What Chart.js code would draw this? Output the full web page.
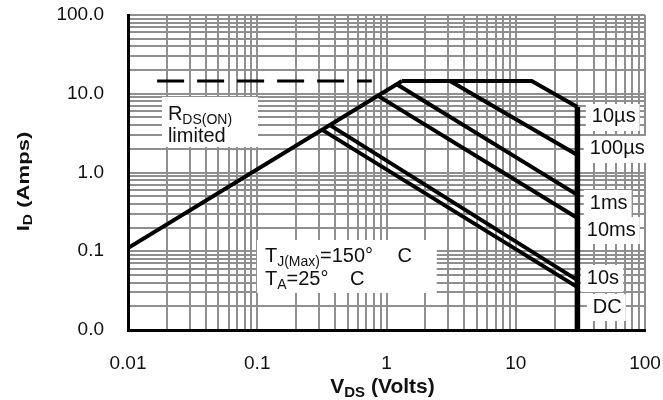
<!DOCTYPE html>
<html>
<head>
<meta charset="utf-8">
<script src="https://cdn.jsdelivr.net/npm/chart.js@4"></script>
<style>
  body { margin: 0; background: #fff; }
</style>
</head>
<body>
<canvas id="soaChart" width="663" height="400"></canvas>
<script>
// axis decades and their tick labels
const vdsDecades = [0.01, 0.1, 1, 10, 100];
const idDecades = [0.01, 0.1, 1, 10, 100];
const xTickLabels = ['0.01', '0.1', '1', '10', '100'];
const yTickLabels = ['0.0', '0.1', '1.0', '10.0', '100.0'];

// curves (VDS in volts, ID in amps)
const rdsVds = [0.01, 1.32];
const rdsId = [0.11, 14.5];
const dashVds = [0.0168, 0.77];
const dashId = [14.5, 14.5];
const p10usVds = [1.32, 13.3, 30];
const p10usId = [14.5, 14.5, 6.8];
const vmaxVds = [30, 30];
const vmaxId = [6.8, 0.01];
const p100usVds = [3.1, 30];
const p100usId = [14.5, 1.67];
const p1msVds = [1.2, 30];
const p1msId = [13.2, 0.52];
const p10msVds = [0.86, 30];
const p10msId = [9.4, 0.264];
const p10sVds = [0.365, 30];
const p10sId = [4.0, 0.043];
const dcVds = [0.316, 30];
const dcId = [3.5, 0.035];

// curve labels on the right, anchored at (VDS, ID)
const curveNames = ['10\u00b5s', '100\u00b5s', '1ms', '10ms', '10s', 'DC'];
const nameVds = [38.8, 37.4, 37.4, 35.5, 35.5, 39.5];
const nameId = [5.07, 1.99, 0.41, 0.186, 0.0457, 0.0196];

const FONT = '"Liberation Sans", Arial, sans-serif';

function pts(xs, ys) {
  return xs.map((v, i) => ({ x: v, y: ys[i] }));
}

function logTicks(decades, labels) {
  const out = [];
  decades.forEach((d, i) => {
    const last = i === decades.length - 1;
    for (let m = 1; m <= (last ? 1 : 9); m++) {
      out.push({ value: d * m, lbl: m === 1 ? labels[i] : '' });
    }
  });
  return out;
}

function line(data, width, dash) {
  return {
    data: data,
    showLine: true,
    borderColor: '#000',
    borderWidth: width,
    borderDash: dash || [],
    pointRadius: 0,
    fill: false
  };
}

// draw text made of runs, some of them subscripts
function drawRuns(ctx, x, y, runs, size, bold, measureOnly) {
  let cx = x;
  for (const r of runs) {
    const s = r.sub ? Math.round(size * 0.7) : size;
    ctx.font = (bold ? 'bold ' : '') + s + 'px ' + FONT;
    cx += r.gap || 0;
    if (!measureOnly) ctx.fillText(r.t, cx, y + (r.sub ? size * 0.2 : 0));
    cx += ctx.measureText(r.t).width;
  }
  return cx - x;
}

const notesPlugin = {
  id: 'notes',
  beforeDatasetsDraw(chart) {
    const ctx = chart.ctx;
    const xs = chart.scales.x, ys = chart.scales.y;
    const X = v => xs.getPixelForValue(v), Y = v => ys.getPixelForValue(v);
    ctx.save();
    ctx.textBaseline = 'alphabetic';
    ctx.textAlign = 'left';

    // RDS(on) box
    let bx = X(0.0183), by = Y(9.1);
    ctx.fillStyle = '#fff';
    ctx.fillRect(bx, by, X(0.1013) - bx, Y(2.11) - by);
    ctx.fillStyle = '#111';
    drawRuns(ctx, bx + 6, by + 23, [{ t: 'R' }, { t: 'DS(ON)', sub: true }], 20);
    drawRuns(ctx, bx + 6, by + 45, [{ t: 'limited' }], 20);

    // temperature box
    bx = X(0.0995); by = Y(0.139);
    ctx.fillStyle = '#fff';
    ctx.fillRect(bx, by, X(2.45) - bx, Y(0.0295) - by);
    ctx.fillStyle = '#111';
    drawRuns(ctx, bx + 8, by + 22,
      [{ t: 'T' }, { t: 'J(Max)', sub: true }, { t: '=150\u00b0' }, { t: ' C', gap: 19 }], 20);
    drawRuns(ctx, bx + 8, by + 45,
      [{ t: 'T' }, { t: 'A', sub: true }, { t: '=25\u00b0' }, { t: ' C', gap: 16 }], 20);

    // pulse-width labels
    ctx.textBaseline = 'middle';
    ctx.font = '20px ' + FONT;
    curveNames.forEach((name, i) => {
      const lx = X(nameVds[i]), ly = Y(nameId[i]);
      const w = ctx.measureText(name).width;
      ctx.fillStyle = '#fff';
      ctx.fillRect(lx - 6, ly - 13, w + 10, 27);
      ctx.fillStyle = '#111';
      ctx.fillText(name, lx, ly);
    });
    ctx.restore();
  },
  afterDraw(chart) {
    const ctx = chart.ctx;
    const a = chart.chartArea;
    ctx.save();
    ctx.fillStyle = '#111';
    ctx.textBaseline = 'alphabetic';

    // x title
    const xRuns = [{ t: 'V' }, { t: 'DS', sub: true }, { t: ' (Volts)' }];
    const xw = drawRuns(ctx, 0, 0, xRuns, 21, true, true);
    drawRuns(ctx, (a.left + a.right) / 2 - xw / 2 - 4, a.bottom + 63, xRuns, 21, true);

    // y title, rotated
    const yRuns = [{ t: 'I' }, { t: 'D', sub: true }, { t: ' (Amps)' }];
    const yw = drawRuns(ctx, 0, 0, yRuns, 17, true, true);
    ctx.translate(29, (a.top + a.bottom) / 2 + 9);
    ctx.rotate(-Math.PI / 2);
    ctx.scale(1.3, 1);
    drawRuns(ctx, -yw / 2, 0, yRuns, 17, true);
    ctx.restore();
  }
};

const gridStyle = { color: '#8f8f8f', lineWidth: 2, drawTicks: false };

new Chart(document.getElementById('soaChart'), {
  type: 'scatter',
  data: {
    datasets: [
      line(pts(rdsVds, rdsId), 4),
      line(pts(dashVds, dashId), 3, [27, 13]),
      line(pts(p10usVds, p10usId), 4),
      line(pts(vmaxVds, vmaxId), 5.5),
      line(pts(p100usVds, p100usId), 4),
      line(pts(p1msVds, p1msId), 4),
      line(pts(p10msVds, p10msId), 4),
      line(pts(p10sVds, p10sId), 4),
      line(pts(dcVds, dcId), 4)
    ]
  },
  options: {
    responsive: false,
    animation: false,
    layout: { padding: { left: 0, right: 18, top: 15, bottom: 0 } },
    plugins: {
      legend: { display: false },
      tooltip: { enabled: false }
    },
    scales: {
      x: {
        type: 'logarithmic',
        min: 0.01,
        max: 100,
        grid: gridStyle,
        border: { color: '#000', width: 3 },
        afterBuildTicks: s => { s.ticks = logTicks(vdsDecades, xTickLabels); },
        afterFit: s => { s.height = 70; s.paddingLeft = 0; s.paddingRight = 0; },
        ticks: {
          autoSkip: false,
          maxRotation: 0,
          padding: 22,
          color: '#111',
          font: { family: FONT, size: 19 },
          callback: (v, i, t) => t[i].lbl
        }
      },
      y: {
        type: 'logarithmic',
        min: 0.01,
        max: 100,
        grid: gridStyle,
        border: { color: '#000', width: 3 },
        afterBuildTicks: s => { s.ticks = logTicks(idDecades, yTickLabels); },
        afterFit: s => { s.width = 128; s.paddingTop = 0; s.paddingBottom = 0; },
        ticks: {
          autoSkip: false,
          padding: 24,
          color: '#111',
          font: { family: FONT, size: 19 },
          callback: (v, i, t) => t[i].lbl
        }
      }
    }
  },
  plugins: [notesPlugin]
});
</script>
</body>
</html>
